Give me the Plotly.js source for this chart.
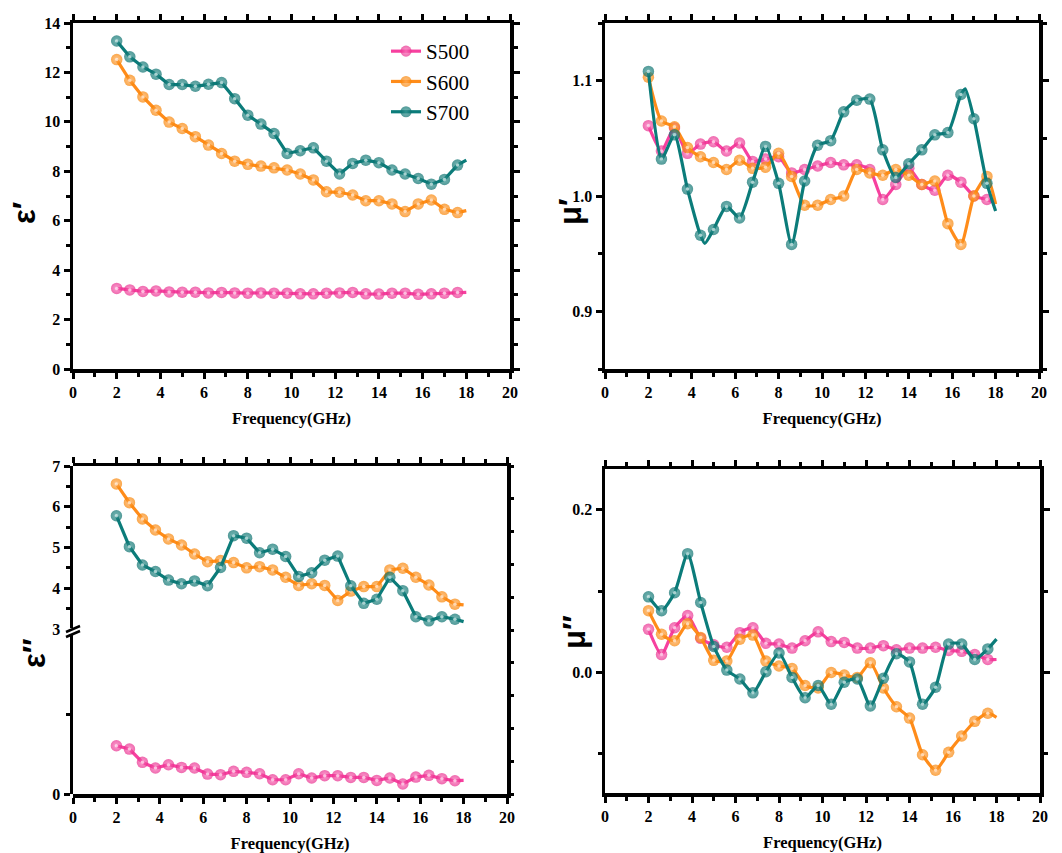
<!DOCTYPE html>
<html><head><meta charset="utf-8">
<script src="https://cdn.plot.ly/plotly-3.0.1.min.js"></script>
<style>html,body{margin:0;padding:0;background:#fff}#chart{width:1062px;height:853px}</style>
</head><body><div id="chart"></div>
<script>
const seriesNames = ['S500', 'S600', 'S700'];
const freq = [2.0,2.6,3.2,3.8,4.4,5.0,5.6,6.2,6.8,7.4,8.0,8.6,9.2,9.8,10.4,11.0,11.6,12.2,12.8,13.4,14.0,14.6,15.2,15.8,16.4,17.0,17.6,18.0];

// epsilon' (real permittivity)
const epsRealS500 = [3.26,3.20,3.14,3.16,3.12,3.11,3.11,3.08,3.10,3.08,3.07,3.08,3.07,3.07,3.04,3.04,3.07,3.08,3.10,3.04,3.03,3.07,3.07,3.02,3.04,3.07,3.10,3.10];
const epsRealS600 = [12.52,11.68,11.01,10.47,9.99,9.73,9.40,9.06,8.72,8.41,8.28,8.21,8.14,8.05,7.89,7.65,7.17,7.15,7.04,6.81,6.81,6.68,6.37,6.68,6.84,6.46,6.33,6.41];
const epsRealS700 = [13.27,12.63,12.22,11.93,11.51,11.51,11.44,11.52,11.59,10.94,10.27,9.91,9.53,8.72,8.83,8.95,8.41,7.89,8.32,8.45,8.35,8.05,7.89,7.71,7.48,7.67,8.25,8.45];

// mu' (real permeability)
const muRealS500 = [1.061,1.039,1.059,1.037,1.045,1.047,1.039,1.046,1.030,1.032,1.034,1.020,1.023,1.026,1.029,1.027,1.027,1.023,0.997,1.010,1.024,1.010,1.005,1.018,1.012,1.000,0.997,0.994];
const muRealS600 = [1.103,1.065,1.060,1.042,1.034,1.029,1.023,1.031,1.024,1.025,1.037,1.017,0.992,0.992,0.997,1.000,1.023,1.020,1.018,1.023,1.018,1.010,1.013,0.976,0.958,1.000,1.017,0.993];
const muRealS700Freq = [2.0,2.6,3.2,3.8,4.4,4.6,5.0,5.6,6.2,6.8,7.4,8.0,8.6,9.2,9.8,10.4,11.0,11.6,12.2,12.8,13.4,14.0,14.6,15.2,15.8,16.4,16.6,17.0,17.6,18.0];
const muRealS700 = [1.108,1.032,1.053,1.006,0.966,0.959,0.971,0.991,0.981,1.012,1.043,1.011,0.958,1.013,1.044,1.048,1.073,1.083,1.084,1.040,1.016,1.028,1.040,1.053,1.055,1.088,1.093,1.067,1.011,0.987];

// epsilon'' (imaginary permittivity); S500 sits on the lower (broken) segment
const epsImagS500 = [0.305,0.284,0.200,0.164,0.185,0.168,0.164,0.126,0.122,0.143,0.137,0.128,0.090,0.090,0.128,0.101,0.116,0.116,0.105,0.105,0.086,0.101,0.063,0.107,0.118,0.097,0.084,0.086];
const epsImagS600 = [6.56,6.10,5.70,5.43,5.21,5.06,4.84,4.65,4.68,4.63,4.50,4.53,4.45,4.27,4.07,4.11,4.07,3.70,3.93,4.04,4.04,4.45,4.49,4.27,4.08,3.79,3.61,3.59];
const epsImagS700 = [5.78,5.02,4.57,4.41,4.20,4.11,4.18,4.06,4.51,5.29,5.23,4.87,4.96,4.78,4.29,4.38,4.69,4.79,4.06,3.63,3.73,4.27,3.94,3.30,3.20,3.30,3.24,3.18];

// mu'' (imaginary permeability)
const muImagS500 = [0.053,0.022,0.055,0.070,0.042,0.034,0.031,0.049,0.055,0.036,0.035,0.030,0.039,0.050,0.038,0.037,0.030,0.030,0.033,0.028,0.030,0.030,0.031,0.027,0.026,0.022,0.016,0.016];
const muImagS600 = [0.076,0.047,0.039,0.060,0.043,0.015,0.014,0.041,0.046,0.014,0.008,0.005,-0.016,-0.019,0.000,-0.003,-0.006,0.012,-0.019,-0.042,-0.056,-0.101,-0.120,-0.098,-0.078,-0.060,-0.050,-0.055];
const muImagS700 = [0.093,0.076,0.098,0.146,0.086,0.032,0.003,-0.008,-0.025,0.001,0.024,-0.006,-0.031,-0.016,-0.039,-0.012,-0.008,-0.041,-0.007,0.023,0.013,-0.039,-0.018,0.035,0.035,0.016,0.029,0.041];

const colors = ['#F7409F', '#FF8C1A', '#0B7C7A'];
const edgeColors = ['#E82A8C', '#F88200', '#086E6C'];
const tints = ['#FB78BD', '#FFAE5C', '#3D9C98'];

function onGrid(x) {
  const k = (x - 2) / 0.6;
  return x < 17.9 && Math.abs(k - Math.round(k)) < 1e-6;
}
function markerSizes(xs, s) { return xs.map(x => onGrid(x) ? s : 0); }

function mk(x, y, i, xa, ya, showlegend, smooth) {
  return {
    type: 'scatter', mode: 'lines+markers', x: x, y: y,
    name: seriesNames[i], legendgroup: seriesNames[i], showlegend: showlegend,
    xaxis: xa, yaxis: ya,
    line: smooth ? {color: colors[i], width: 3.2, shape: 'spline', smoothing: 0.6}
                 : {color: colors[i], width: 3.2},
    marker: {color: edgeColors[i], size: markerSizes(x, 11.5), line: {width: 0},
             gradient: {type: 'radial', color: tints[i]}}
  };
}
function glint(x, y, xa, ya) {
  return {
    type: 'scatter', mode: 'markers', x: x, y: y, xaxis: xa, yaxis: ya,
    showlegend: false, hoverinfo: 'skip',
    marker: {color: 'rgba(255,255,255,0.85)', size: markerSizes(x, 3.5), line: {width: 0}}
  };
}

const panels = [
  [freq, epsRealS500, 0, 'x', 'y', false], [freq, epsRealS600, 1, 'x', 'y', false], [freq, epsRealS700, 2, 'x', 'y', false],
  [freq, muRealS500, 0, 'x2', 'y2', true], [freq, muRealS600, 1, 'x2', 'y2', true], [muRealS700Freq, muRealS700, 2, 'x2', 'y2', true],
  [freq, epsImagS500, 0, 'x3', 'y5', false], [freq, epsImagS600, 1, 'x3', 'y3', false], [freq, epsImagS700, 2, 'x3', 'y3', false],
  [freq, muImagS500, 0, 'x4', 'y4', true], [freq, muImagS600, 1, 'x4', 'y4', true], [freq, muImagS700, 2, 'x4', 'y4', true]
];
const data = [];
panels.forEach((p, k) => {
  data.push(mk(p[0], p[1], p[2], p[3], p[4], k < 3, p[5]));
  data.push(glint(p[0], p[1], p[3], p[4]));
});
data.push({type: 'scatter', x: [], y: [], xaxis: 'x3', yaxis: 'y6', showlegend: false, hoverinfo: 'skip'});

const tickFont = {family: 'Liberation Serif', size: 16, color: '#000', weight: 'bold'};
const titleFont = {family: 'Liberation Serif', size: 16.5, color: '#000', weight: 'bold'};
const minorTick = {ticks: 'outside', ticklen: 4, tickwidth: 3, tickcolor: '#000', showgrid: false};

function baseAxis(extra) {
  return Object.assign({
    ticks: 'outside', ticklen: 6, tickwidth: 3, tickcolor: '#000',
    showline: true, linewidth: 3.5, linecolor: '#000', mirror: 'ticks',
    showgrid: false, zeroline: false, tickfont: tickFont, fixedrange: true
  }, extra);
}
function xAxis(domain, anchor) {
  return baseAxis({
    domain: domain, anchor: anchor, range: [0, 20], tick0: 0, dtick: 2,
    minor: Object.assign({dtick: 1}, minorTick),
    title: {text: 'Frequency(GHz)', font: titleFont, standoff: 13}
  });
}

const px = v => v / 1062;
const py = v => 1 - v / 853;

const layout = {
  width: 1062, height: 853,
  margin: {l: 0, r: 0, t: 0, b: 0},
  paper_bgcolor: '#fff', plot_bgcolor: 'rgba(0,0,0,0)',
  font: {family: 'Liberation Serif', color: '#000'},
  showlegend: true,
  legend: {x: px(386), y: py(31), xanchor: 'left', yanchor: 'top',
           bgcolor: 'rgba(0,0,0,0)', borderwidth: 0, tracegroupgap: 0,
           font: {family: 'Liberation Serif', size: 21, color: '#000'}},
  xaxis: xAxis([px(73), px(510)], 'y'),
  yaxis: baseAxis({domain: [py(369), py(23)], anchor: 'x', range: [0, 14], tick0: 0, dtick: 2,
    minor: Object.assign({dtick: 1}, minorTick)}),
  xaxis2: xAxis([px(605), px(1039)], 'y2'),
  yaxis2: baseAxis({domain: [py(369), py(23)], anchor: 'x2', range: [0.85, 1.15], tick0: 0, dtick: 0.1, tickformat: '.1f',
    minor: Object.assign({dtick: 0.05}, minorTick)}),
  xaxis3: xAxis([px(73), px(507)], 'y6'),
  yaxis3: baseAxis({domain: [py(629), py(466)], anchor: 'x3', range: [3, 7], tick0: 0, dtick: 1, mirror: false,
    minor: Object.assign({dtick: 0.5}, minorTick)}),
  yaxis5: baseAxis({domain: [py(794), py(631)], anchor: 'x3', range: [0, 1.03], tickvals: [0], mirror: false,
    minor: Object.assign({tickvals: [0.5]}, minorTick)}),
  yaxis6: baseAxis({domain: [py(794), py(466)], anchor: 'x3', side: 'right', range: [0, 10], dtick: 1,
    ticklen: 3, showticklabels: false, mirror: false}),
  xaxis4: xAxis([px(605), px(1040)], 'y4'),
  yaxis4: baseAxis({domain: [py(793), py(469)], anchor: 'x4', range: [-0.148, 0.25], tick0: 0, dtick: 0.2, tickformat: '.1f',
    minor: Object.assign({dtick: 0.1}, minorTick)}),
  annotations: [
    {text: 'ε′', x: px(24), y: py(213)},
    {text: 'μ′', x: px(570), y: py(212)},
    {text: 'ε″', x: px(34), y: py(653)},
    {text: 'μ″', x: px(574), y: py(632)}
  ].map(a => Object.assign({xref: 'paper', yref: 'paper', xanchor: 'center', yanchor: 'middle',
      showarrow: false, textangle: -90,
      font: {family: 'Liberation Sans', size: 31, color: '#000', weight: 'bold'}}, a)),
  shapes: [
    {type: 'rect', xref: 'paper', yref: 'paper', x0: px(64), x1: px(82), y0: py(634), y1: py(628),
     fillcolor: '#fff', line: {width: 0}},
    {type: 'line', xref: 'paper', yref: 'paper', x0: px(66), y0: py(632), x1: px(80), y1: py(626),
     line: {color: '#000', width: 2.5}},
    {type: 'line', xref: 'paper', yref: 'paper', x0: px(66), y0: py(637), x1: px(80), y1: py(631),
     line: {color: '#000', width: 2.5}}
  ]
};

Plotly.newPlot('chart', data, layout, {displayModeBar: false, staticPlot: true});
</script>
</body></html>
